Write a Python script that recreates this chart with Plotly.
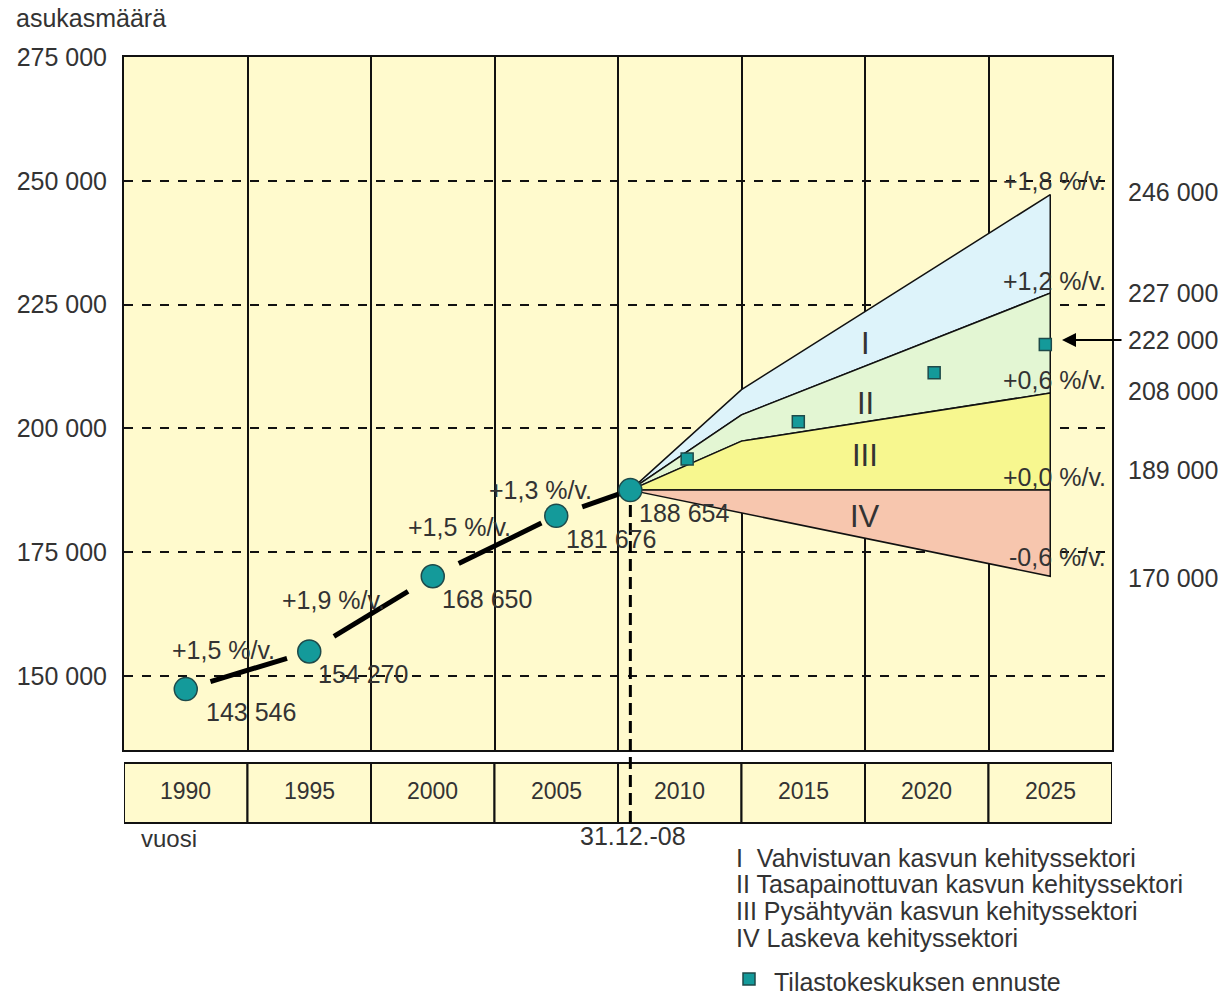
import plotly.graph_objects as go

# ---------------- data ----------------
hist_years = [1990, 1995, 2000, 2005, 2008]
hist_values = [147300, 154900, 170100, 182300, 187500]
hist_labels = ["143 546", "154 270", "168 650", "181 676", "188 654"]
growth_labels = ["+1,5 %/v.", "+1,9 %/v.", "+1,5 %/v.", "+1,3 %/v."]

fan_x = [2008, 2012.5, 2025]
fan_p18 = [187500, 207800, 247200]
fan_p12 = [187500, 202700, 227300]
fan_p06 = [187500, 197400, 207100]
fan_p00 = [187500, 187500, 187500]
fan_m06_x = [2008, 2025]
fan_m06 = [187500, 170100]
fan_rate_labels = ["+1,8 %/v.", "+1,2 %/v.", "+0,6 %/v.", "+0,0 %/v.", "-0,6 %/v."]
sector_names = ["I", "II", "III", "IV"]

stat_years = [2010.3, 2014.8, 2020.3, 2024.8]
stat_values = [193800, 201300, 211200, 216900]
stat_name = "Tilastokeskuksen ennuste"

right_labels = ["246 000", "227 000", "222 000", "208 000", "189 000", "170 000"]
year_labels = ["1990", "1995", "2000", "2005", "2010", "2015", "2020", "2025"]
year_centers = [1990, 1995, 2000, 2005, 2010, 2015, 2020, 2025]
ytick_vals = [150000, 175000, 200000, 225000, 250000, 275000]
ytick_text = ["150 000", "175 000", "200 000", "225 000", "250 000", "275 000"]
legend_lines = ["I\u00a0\u00a0Vahvistuvan kasvun kehityssektori",
                "II Tasapainottuvan kasvun kehityssektori",
                "III Pysähtyvän kasvun kehityssektori",
                "IV Laskeva kehityssektori"]

# ---------------- style / geometry ----------------
W, H = 1225, 1005
ML, MR, MT, MB = 124, 113, 57, 255
PW, PH = W - ML - MR, H - MT - MB
XR = [1987.5, 2027.5]
YR = [135000, 275000]
FONT = "Liberation Sans, Arial, sans-serif"
TXT = "#333333"
BG = "#FFFACD"
TEAL = "#149A9A"
TEAL_EDGE = "#1E4A4A"


def px(x):  # pixel -> paper x
    return (x - ML) / PW


def py(y):  # pixel -> paper y
    return (MT + PH - y) / PH


fig = go.Figure()

# fan sectors
sec_I_x = fan_x + fan_x[::-1]
sec_I_y = fan_p18 + fan_p12[::-1]
sec_II_y = fan_p12 + fan_p06[::-1]
sec_III_y = fan_p06 + fan_p00[::-1]
sec_IV_x = fan_m06_x + fan_m06_x[::-1]
sec_IV_y = [fan_p00[0], fan_p00[-1]] + fan_m06[::-1]
sector_defs = [
    (sec_I_x, sec_I_y, "#DDF3FA"),
    (sec_I_x, sec_II_y, "#E3F6D3"),
    (sec_I_x, sec_III_y, "#F7F78F"),
    (sec_IV_x, sec_IV_y, "#F7C6AE"),
]
for xs, ys, col in sector_defs:
    fig.add_trace(go.Scatter(x=xs + [xs[0]], y=ys + [ys[0]], fill="toself", fillcolor=col,
                             mode="lines", line=dict(color="#111111", width=1.5),
                             showlegend=False, hoverinfo="skip"))

# historical trend: thick dashes between markers
fr = [(0.2, 0.82), (0.2, 0.8), (0.21, 0.88), (0.35, 0.86)]
lx, ly = [], []
for i in range(len(hist_years) - 1):
    x0, x1 = hist_years[i], hist_years[i + 1]
    y0, y1 = hist_values[i], hist_values[i + 1]
    a, b = fr[i]
    lx += [x0 + a * (x1 - x0), x0 + b * (x1 - x0), None]
    ly += [y0 + a * (y1 - y0), y0 + b * (y1 - y0), None]
fig.add_trace(go.Scatter(x=lx, y=ly, mode="lines", line=dict(color="black", width=5),
                         showlegend=False, hoverinfo="skip"))

fig.add_trace(go.Scatter(x=hist_years, y=hist_values, mode="markers",
                         marker=dict(size=23, color=TEAL, line=dict(color=TEAL_EDGE, width=1.5)),
                         showlegend=False))

fig.add_trace(go.Scatter(x=stat_years, y=stat_values, mode="markers",
                         name=stat_name, showlegend=False,
                         marker=dict(symbol="square", size=12, color=TEAL,
                                     line=dict(color=TEAL_EDGE, width=1.5))))

ann = []
F25 = dict(family=FONT, size=25, color=TXT)
F23 = dict(family=FONT, size=23, color=TXT)

# value labels
vshift = [18, 7, 7, 8, 7]
for i, t in enumerate(hist_labels):
    ann.append(dict(x=hist_years[i], y=hist_values[i], text=t, showarrow=False,
                    xanchor="left", yanchor="middle", xshift=vshift[i], yshift=-23, font=F25))
# growth labels at segment midpoints
gshift = [(-24, 20), (-38, 14), (-35, 19), (-53, 13)]
for i, t in enumerate(growth_labels):
    mx = (hist_years[i] + hist_years[i + 1]) / 2
    my = (hist_values[i] + hist_values[i + 1]) / 2
    ann.append(dict(x=mx, y=my, text=t, showarrow=False, xanchor="center", yanchor="middle",
                    xshift=gshift[i][0], yshift=gshift[i][1], font=F25))

# fan rate labels (right-aligned near right border)
rate_py = [181, 281, 380, 477, 557]
for t, p in zip(fan_rate_labels, rate_py):
    ann.append(dict(xref="paper", yref="paper", x=px(1108), y=py(p), text=t, showarrow=False,
                    xanchor="right", yanchor="middle", font=F25))
# sector numerals
num_py = [343, 404, 455, 516]
for t, p in zip(sector_names, num_py):
    ann.append(dict(xref="paper", yref="paper", x=px(865), y=py(p), text=t, showarrow=False,
                    xanchor="center", yanchor="middle", font=dict(family=FONT, size=31, color=TXT)))
# right-hand labels
r_py = [192, 293, 340, 391, 470, 578]
for t, p in zip(right_labels, r_py):
    ann.append(dict(xref="paper", yref="paper", x=px(1126), y=py(p), text=t, showarrow=False,
                    xanchor="left", yanchor="middle", font=F25))
# arrow to 222 000
ann.append(dict(xref="paper", yref="paper", x=px(1062), y=py(340), ax=61, ay=0,
                text="", showarrow=True, arrowhead=2,
                arrowsize=1.4, arrowwidth=2, arrowcolor="black"))

# year row labels
for t, c in zip(year_labels, year_centers):
    ann.append(dict(x=c, y=py(791), yref="paper", text=t, showarrow=False,
                    xanchor="center", yanchor="middle", font=F23))

ann.append(dict(xref="paper", yref="paper", x=px(14), y=py(18), text="asukasmäärä",
                showarrow=False, xanchor="left", yanchor="middle", font=F25))
ann.append(dict(xref="paper", yref="paper", x=px(139), y=py(839), text="vuosi",
                showarrow=False, xanchor="left", yanchor="middle",
                font=dict(family=FONT, size=24, color=TXT)))
ann.append(dict(xref="paper", yref="paper", x=px(633), y=py(836), text="31.12.-08",
                showarrow=False, xanchor="center", yanchor="middle", font=F25))
leg_py = [858, 884, 911, 938]
for t, p in zip(legend_lines, leg_py):
    ann.append(dict(xref="paper", yref="paper", x=px(734), y=py(p), text=t,
                    showarrow=False, xanchor="left", yanchor="middle", font=F25))
# legend entry for the statistics forecast
ann.append(dict(xref="paper", yref="paper", x=px(772), y=py(982), text=stat_name,
                showarrow=False, xanchor="left", yanchor="middle", font=F25))

shapes = []
# year row cells
edges = [1987.5 + 5 * i for i in range(9)]
for i in range(8):
    shapes.append(dict(type="rect", xref="x", yref="paper", x0=edges[i], x1=edges[i + 1],
                       y0=py(823), y1=py(763), fillcolor=BG, line=dict(color="#111111", width=2),
                       layer="below"))
# dashed marker line at 31.12.2008
shapes.append(dict(type="line", xref="x", yref="paper", x0=hist_years[-1], x1=hist_years[-1],
                   y0=py(823), y1=py(503), line=dict(color="black", width=3, dash="12px,6px")))
# legend square
shapes.append(dict(type="rect", xref="paper", yref="paper", x0=px(743), x1=px(755),
                   y0=py(985), y1=py(973), fillcolor=TEAL, line=dict(color=TEAL_EDGE, width=1.5)))

fig.update_layout(
    width=W, height=H,
    margin=dict(l=ML, r=MR, t=MT, b=MB, pad=0),
    paper_bgcolor="white", plot_bgcolor=BG,
    font=dict(family=FONT, color=TXT),
    annotations=ann, shapes=shapes,
    showlegend=False,
    xaxis=dict(range=XR, tickvals=edges[1:-1], showticklabels=False, ticks="",
               showgrid=True, gridcolor="#111111", gridwidth=1.5, zeroline=False,
               showline=True, mirror=True, linecolor="#111111", linewidth=2, fixedrange=True),
    yaxis=dict(range=YR, tickvals=ytick_vals, ticktext=ytick_text, ticks="outside",
               ticklen=10, tickcolor="rgba(0,0,0,0)", tickfont=F25,
               showgrid=True, gridcolor="#111111", gridwidth=1.5, griddash="dash",
               zeroline=False, showline=True, mirror=True, linecolor="#111111", linewidth=2,
               fixedrange=True),
)

fig.write_html("out.html")
